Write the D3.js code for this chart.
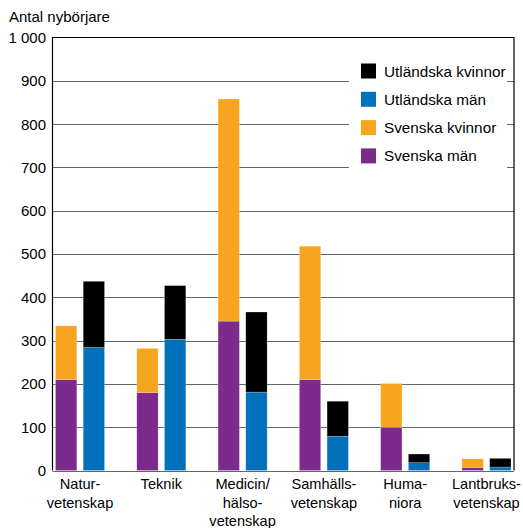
<!DOCTYPE html>
<html><head><meta charset="utf-8">
<script src="https://cdn.jsdelivr.net/npm/d3@7"></script>
<style>body{margin:0;background:#fff}svg{display:block}text{font-family:"Liberation Sans",Arial,sans-serif;fill:#000}</style>
</head><body>
<script>
const categories = [["Natur-","vetenskap"],["Teknik"],["Medicin/","hälso-","vetenskap"],["Samhälls-","vetenskap"],["Huma-","niora"],["Lantbruks-","vetenskap"]];
const svenskaMan      = [210, 180, 345, 210, 100, 7];
const svenskaKvinnor  = [124, 102, 513, 308, 101, 20];
const utlandskaMan    = [284, 303, 181, 79, 18, 8];
const utlandskaKvinnor= [153, 124, 185, 81, 20, 20];
const yTicks = [0,100,200,300,400,500,600,700,800,900,1000];
const yTickLabels = ["0","100","200","300","400","500","600","700","800","900","1 000"];
const legendItems = ["Utländska kvinnor","Utländska män","Svenska kvinnor","Svenska män"];
const colors = {"Svenska män":"#7d2a8d","Svenska kvinnor":"#f7a51f","Utländska män":"#0071ba","Utländska kvinnor":"#000000"};

const W=523,H=528, L=52.5, R=514, T=37.5, B=470.5;
const svg=d3.select("body").append("svg").attr("width",W).attr("height",H);
const keys = categories.map((c,i)=>i);
const x = d3.scaleBand().domain(keys).range([L,R]).paddingInner(0.397).paddingOuter(0.037);
const xs = d3.scaleBand().domain(["sv","utl"]).range([0,x.bandwidth()]).paddingInner(0.23);
const y = d3.scaleLinear().domain([0,1000]).range([B,T]);

// gridlines
svg.append("g").selectAll("line").data(yTicks.filter(d=>d<1000)).join("line")
  .attr("x1",L).attr("x2",R).attr("y1",d=>Math.round(y(d))+0.5).attr("y2",d=>Math.round(y(d))+0.5)
  .attr("stroke","#666").attr("stroke-width",1.2);

// data
const rows = keys.map(i=>({i, sm:svenskaMan[i], sk:svenskaKvinnor[i], um:utlandskaMan[i], uk:utlandskaKvinnor[i]}));
const svStack = d3.stack().keys(["sm","sk"])(rows);
const utStack = d3.stack().keys(["um","uk"])(rows);
const nameOf = {sm:"Svenska män",sk:"Svenska kvinnor",um:"Utländska män",uk:"Utländska kvinnor"};
function drawStack(stack, sub){
  svg.append("g").selectAll("g").data(stack).join("g").attr("fill",s=>colors[nameOf[s.key]])
    .selectAll("rect").data(s=>s).join("rect")
    .attr("x",d=>x(d.data.i)+xs(sub)).attr("width",xs.bandwidth())
    .attr("y",d=>y(d[1])).attr("height",d=>y(d[0])-y(d[1]))
    .attr("stroke","rgba(255,255,255,0.35)").attr("stroke-width",0.6);
}
drawStack(svStack,"sv");
drawStack(utStack,"utl");

// frame
svg.append("path").attr("d",`M${L},${B}V${T}H${R}V${B}`).attr("fill","none").attr("stroke","#000").attr("stroke-width",1.2);

// y tick labels
svg.append("g").selectAll("text").data(yTicks).join("text")
  .attr("x",46).attr("y",d=>y(d)).attr("dy","0.36em").attr("text-anchor","end")
  .attr("font-size",15).text((d,i)=>yTickLabels[i]);
svg.append("text").attr("x",9).attr("y",22).attr("font-size",15).text("Antal nybörjare");

// x labels
const xl = svg.append("g").selectAll("text").data(keys).join("text")
  .attr("x",d=>x(d)+x.bandwidth()/2).attr("y",489).attr("text-anchor","middle").attr("font-size",14.6);
xl.selectAll("tspan").data(d=>categories[d]).join("tspan")
  .attr("x",function(){return this.parentNode.getAttribute("x");})
  .attr("dy",(d,i)=>i?18.5:0).text(d=>d);

// legend
const lg = svg.append("g");
lg.append("rect").attr("x",349).attr("y",56).attr("width",158).attr("height",118).attr("fill","#fff");
const li = lg.selectAll("g").data(legendItems).join("g").attr("transform",(d,i)=>`translate(361,${71+i*28.3})`);
li.append("rect").attr("x",0).attr("y",-7.5).attr("width",15).attr("height",15).attr("fill",d=>colors[d]);
li.append("text").attr("x",23).attr("y",0).attr("dy","0.36em").attr("font-size",15.3).text(d=>d);
</script>
</body></html>
